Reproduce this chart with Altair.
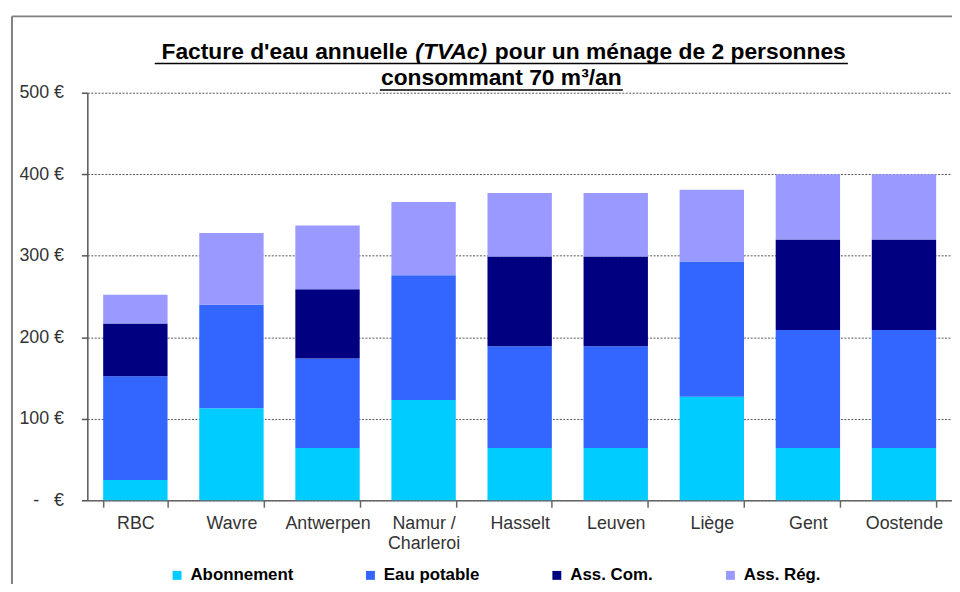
import altair as alt
import pandas as pd

FONT = "Liberation Sans"

communes = ["RBC", "Wavre", "Antwerpen", "Namur / Charleroi", "Hasselt",
            "Leuven", "Liège", "Gent", "Oostende"]
abonnement = [25, 113, 64, 123, 64, 64, 127, 64, 64]
eau_potable = [127, 127, 110, 153, 125, 125, 166, 145, 145]
ass_com = [65, 0, 85, 0, 110, 110, 0, 111, 111]
ass_reg = [35, 88, 78, 90, 78, 78, 88, 80, 80]
series = ["Abonnement", "Eau potable", "Ass. Com.", "Ass. Rég."]
colors = ["#00CCFF", "#3366FF", "#000080", "#9999FF"]
y_ticks = [0, 100, 200, 300, 400, 500]

rows = []
for i, c in enumerate(communes):
    for k, (s, vals) in enumerate(zip(series, [abonnement, eau_potable, ass_com, ass_reg])):
        rows.append({"commune": c, "poste": s, "ordre": k, "montant": vals[i]})
df = pd.DataFrame(rows)

bars = alt.Chart(df).mark_bar().encode(
    x=alt.X(
        "commune:N", sort=communes,
        scale=alt.Scale(paddingInner=0.33, paddingOuter=0.165),
        axis=alt.Axis(
            title=None, labelAngle=0, grid=False,
            labelExpr="datum.value == 'Namur / Charleroi' ? ['Namur /', 'Charleroi'] : datum.label",
            labelFont=FONT, labelFontSize=18, labelColor="#333333",
            labelPadding=7, labelLineHeight=21,
            tickBand="extent", tickSize=7, tickColor="#666666", tickWidth=1.5,
            domainColor="#666666", domainWidth=1.5,
        ),
    ),
    y=alt.Y(
        "montant:Q", stack="zero",
        scale=alt.Scale(domain=[0, 500], nice=False),
        axis=alt.Axis(
            title=None, values=y_ticks,
            labelExpr="datum.value == 0 ? '-\u00a0\u00a0\u00a0€' : datum.value + ' €'",
            labelFont=FONT, labelFontSize=18, labelColor="#333333",
            labelPadding=18, tickSize=6, tickColor="#555555", tickWidth=1.5,
            domainColor="#555555", domainWidth=1.5,
            grid=True, gridColor="#555555", gridDash=[2, 1.5], gridWidth=1,
        ),
    ),
    color=alt.Color(
        "poste:N", sort=series,
        scale=alt.Scale(domain=series, range=colors),
        legend=alt.Legend(
            title=None, orient="none", legendX=82, legendY=478,
            direction="horizontal", columns=4, columnPadding=69,
            symbolType="square", symbolSize=81, symbolStrokeWidth=0,
            labelFont=FONT, labelFontSize=17, labelFontWeight="bold",
            labelColor="black", labelOffset=5, padding=0,
        ),
    ),
    order=alt.Order("ordre:Q"),
)

one = alt.Data(values=[{}])


def txt(text, x, y, align, italic=False):
    return alt.Chart(one).mark_text(
        text=text, align=align, baseline="alphabetic", font=FONT,
        fontSize=23, fontWeight="bold",
        fontStyle="italic" if italic else "normal", color="black",
    ).encode(x=alt.value(x), y=alt.value(y))


def hline(x, x2, y, color="black", width=1.6):
    return alt.Chart(one).mark_rule(color=color, strokeWidth=width).encode(
        x=alt.value(x), x2=alt.value(x2), y=alt.value(y))


def vline(x, y, y2, color="black", width=1.6):
    return alt.Chart(one).mark_rule(color=color, strokeWidth=width).encode(
        x=alt.value(x), y=alt.value(y), y2=alt.value(y2))


title_layers = [
    txt("Facture d'eau annuelle", 323, -34, "right"),
    txt("(TVAc)", 367, -34, "center", italic=True),
    txt("pour un ménage de 2 personnes", 411, -34, "left"),
    txt("consommant 70 m\u00b3/an", 417.5, -7.5, "center"),
    hline(68, 767, -29.5),
    hline(295, 540, -2.7),
]
frame_layers = [
    vline(-76, -77, 500, color="#808080", width=2),
    hline(-76, 872, -77, color="#808080", width=2),
]

chart = alt.layer(bars, *title_layers, *frame_layers).properties(
    width=872, height=411,
    padding={"left": 80, "top": 83, "right": 0, "bottom": 82},
    autosize=alt.AutoSizeParams(type="none"),
).configure_view(stroke="transparent")

chart.save("out.html", embed_options={"renderer": "svg", "actions": False})
